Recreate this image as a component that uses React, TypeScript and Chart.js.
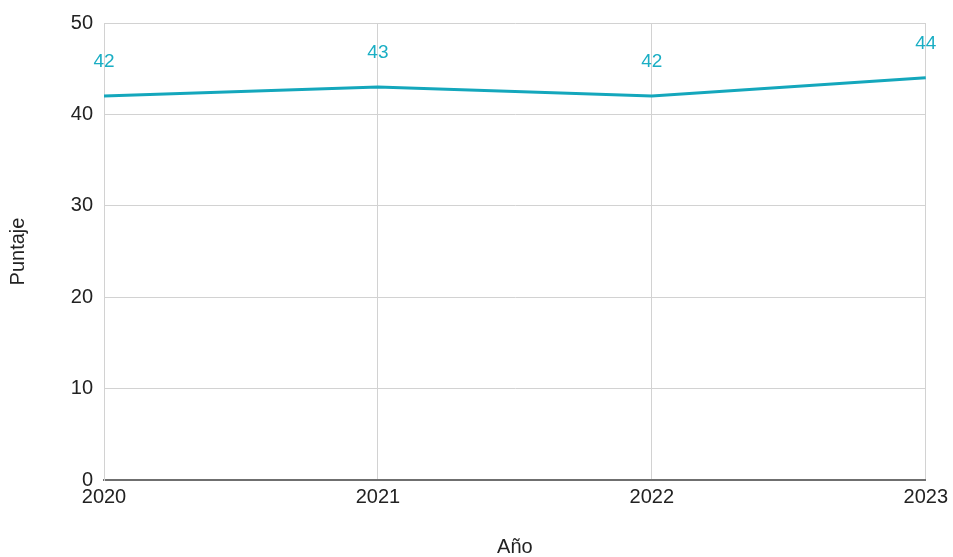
import React, { useEffect, useRef } from "react";
import { Chart, registerables } from "chart.js";

Chart.register(...registerables);

const years: string[] = ["2020", "2021", "2022", "2023"];
const puntaje: number[] = [42, 43, 42, 44];

const FONT = '"Liberation Sans", Arial, sans-serif';
const LINE_COLOR = "#14a7bc";
const LABEL_COLOR = "#1aaec4";

const pointLabels = {
  id: "pointLabels",
  afterDatasetsDraw(chart: any) {
    const ctx = chart.ctx;
    const meta = chart.getDatasetMeta(0);
    ctx.save();
    ctx.font = `19px ${FONT}`;
    ctx.fillStyle = LABEL_COLOR;
    ctx.textAlign = "center";
    ctx.textBaseline = "middle";
    meta.data.forEach((pt: any, i: number) => {
      ctx.fillText(String(puntaje[i]), pt.x, pt.y - 34);
    });
    ctx.restore();
  },
};

export default function App() {
  const ref = useRef<HTMLCanvasElement | null>(null);
  useEffect(() => {
    document.body.style.margin = "0";
    const chart = new Chart(ref.current as HTMLCanvasElement, {
      type: "line",
      data: {
        labels: years,
        datasets: [
          {
            label: "Puntaje",
            data: puntaje,
            borderColor: LINE_COLOR,
            backgroundColor: LINE_COLOR,
            borderWidth: 3,
            pointRadius: 0,
            tension: 0,
          },
        ],
      },
      options: {
        animation: false,
        responsive: true,
        maintainAspectRatio: false,
        layout: { padding: { left: 2, top: 23, right: 24, bottom: 0 } },
        plugins: { legend: { display: false }, tooltip: { enabled: false } },
        scales: {
          x: {
            offset: false,
            grid: { color: "#d2d2d2", drawTicks: false, lineWidth: 1 },
            border: { color: "#6f6f6f", width: 2 },
            ticks: { color: "#222", font: { family: FONT, size: 20 }, padding: 5, maxRotation: 0 },
            title: {
              display: true,
              text: "Año",
              color: "#222",
              font: { family: FONT, size: 20 },
              padding: { top: 4, bottom: -2 },
            },
            afterFit(scale: any) {
              scale.height = 77;
            },
          },
          y: {
            min: 0,
            max: 50,
            ticks: { stepSize: 10, color: "#222", font: { family: FONT, size: 20 }, padding: 11 },
            grid: { color: "#d2d2d2", drawTicks: false, lineWidth: 1 },
            border: { color: "#d2d2d2", width: 1 },
            title: {
              display: true,
              text: "Puntaje",
              color: "#222",
              font: { family: FONT, size: 20 },
              padding: { top: 4, bottom: 4 },
            },
            afterFit(scale: any) {
              scale.width = 102;
            },
          },
        },
      },
      plugins: [pointLabels],
    });
    return () => chart.destroy();
  }, []);
  return (
    <div style={{ width: 953, height: 557, position: "relative" }}>
      <canvas ref={ref} />
    </div>
  );
}
